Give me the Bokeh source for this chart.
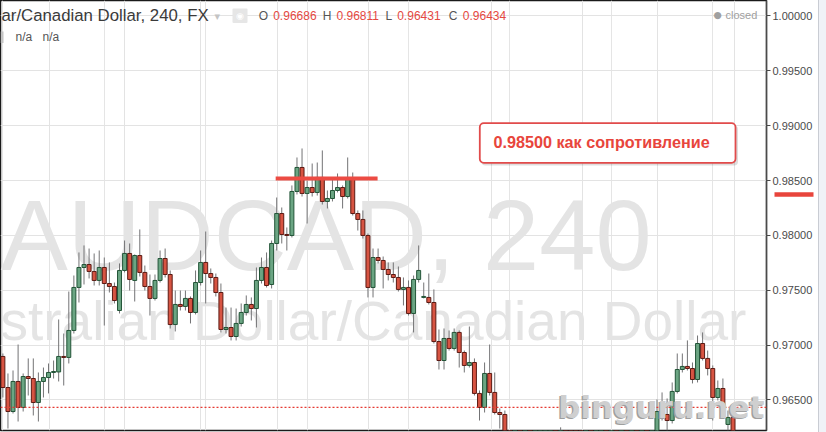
from bokeh.plotting import figure
from bokeh.layouts import row
from bokeh.models import (Range1d, FixedTicker, Grid, Span, Label, BoxAnnotation,
                          ColumnDataSource, Div)
from bokeh.embed import file_html
from bokeh.resources import INLINE

# ---------------- data (AUDCAD, 240 min candles) ----------------
opens = [
    0.96896, 0.96613, 0.96394, 0.96668, 0.96431, 0.96713, 0.96695, 0.96476, 0.96668, 0.96704,
    0.96750, 0.96755, 0.96896, 0.96887, 0.97133, 0.97525, 0.97707, 0.97734, 0.97671, 0.97589,
    0.97707, 0.97561, 0.97534, 0.97315, 0.97680, 0.97835, 0.97589, 0.97816, 0.97662, 0.97534,
    0.97425, 0.97589, 0.97789, 0.97643, 0.97187, 0.97370, 0.97352, 0.97425, 0.97297, 0.97570,
    0.97753, 0.97652, 0.97616, 0.97479, 0.97142, 0.97160, 0.97078, 0.97197, 0.97297, 0.97370,
    0.97333, 0.97589, 0.97707, 0.97552, 0.97926, 0.98199, 0.98008, 0.97999, 0.98400, 0.98619,
    0.98382, 0.98436, 0.98391, 0.98528, 0.98309, 0.98336, 0.98409, 0.98436, 0.98354, 0.98509,
    0.98199, 0.98145, 0.97999, 0.97525, 0.97798, 0.97771, 0.97689, 0.97643, 0.97616, 0.97507,
    0.97525, 0.97288, 0.97598, 0.97434, 0.97434, 0.97388, 0.97032, 0.96859, 0.97060, 0.96969,
    0.97115, 0.96932, 0.96814, 0.96841, 0.96559, 0.96431, 0.96741, 0.96568, 0.96385, 0.96367,
    0.96130, 0.95990, 0.96050, 0.95850, 0.95920, 0.95760, 0.95850, 0.95960, 0.96010, 0.96080,
    0.96030, 0.96120, 0.95980, 0.95850, 0.95790, 0.95650, 0.95720, 0.95600, 0.95660, 0.95770,
    0.95730, 0.95820, 0.95800, 0.95910, 0.95870, 0.95960, 0.95930, 0.96020, 0.96000,
    0.96100, 0.96394, 0.96367, 0.96312, 0.96577, 0.96777, 0.96805, 0.96786, 0.96686, 0.97014,
    0.96878, 0.96786, 0.96522, 0.96604, 0.96276, 0.96340,
]
highs = [
    0.96923, 0.96741, 0.96768, 0.97005, 0.96741, 0.96878, 0.96878, 0.96750, 0.96795, 0.96832,
    0.96859, 0.97233, 0.97105, 0.97488, 0.97634, 0.97844, 0.97908, 0.97880, 0.97835, 0.97862,
    0.97798, 0.97753, 0.97570, 0.97744, 0.97953, 0.97926, 0.97826, 0.98054, 0.97725, 0.97643,
    0.97643, 0.97862, 0.97880, 0.97680, 0.97497, 0.97497, 0.97497, 0.97443, 0.97680, 0.97862,
    0.98035, 0.97698, 0.97652, 0.97561, 0.97342, 0.97342, 0.97333, 0.97379, 0.97452, 0.97434,
    0.97707, 0.97798, 0.97844, 0.97953, 0.98345, 0.98254, 0.98072, 0.98455, 0.98710, 0.98792,
    0.98500, 0.98655, 0.98664, 0.98774, 0.98409, 0.98528, 0.98564, 0.98455, 0.98710, 0.98573,
    0.98227, 0.98227, 0.98017, 0.97880, 0.97880, 0.97807, 0.97753, 0.97753, 0.97716, 0.97616,
    0.97589, 0.97634, 0.97908, 0.97570, 0.97652, 0.97507, 0.97142, 0.97151, 0.97133, 0.97151,
    0.97133, 0.96950, 0.97169, 0.96878, 0.96586, 0.96841, 0.97005, 0.96750, 0.96422, 0.96403,
    0.96160, 0.96090, 0.96080, 0.95960, 0.95940, 0.95890, 0.96010, 0.96070, 0.96150, 0.96120,
    0.96250, 0.96150, 0.96000, 0.95880, 0.95820, 0.95760, 0.95740, 0.95700, 0.95800, 0.95810,
    0.95860, 0.95850, 0.95950, 0.95940, 0.96000, 0.96010, 0.96060, 0.96080, 0.96170,
    0.96504, 0.96568, 0.96513, 0.96659, 0.96923, 0.96923, 0.97042, 0.96841, 0.97087, 0.97115,
    0.96950, 0.96814, 0.96677, 0.96695, 0.96403, 0.96385,
]
lows = [
    0.96522, 0.96239, 0.96376, 0.96303, 0.96394, 0.96540, 0.96358, 0.96303, 0.96522, 0.96559,
    0.96695, 0.96668, 0.96631, 0.96832, 0.97105, 0.97388, 0.97552, 0.97607, 0.97543, 0.97543,
    0.97178, 0.97479, 0.97379, 0.97288, 0.97662, 0.97497, 0.97397, 0.97625, 0.97497, 0.97269,
    0.97406, 0.97570, 0.97616, 0.97151, 0.97124, 0.97315, 0.97315, 0.97197, 0.97279, 0.97543,
    0.97379, 0.97561, 0.97443, 0.97115, 0.97105, 0.97042, 0.97042, 0.97169, 0.97269, 0.97224,
    0.97160, 0.97561, 0.97525, 0.97516, 0.97862, 0.97926, 0.97862, 0.97981, 0.98373, 0.98354,
    0.98108, 0.98354, 0.98363, 0.98281, 0.98245, 0.98309, 0.98391, 0.98245, 0.98336, 0.98181,
    0.98044, 0.97971, 0.97434, 0.97434, 0.97744, 0.97516, 0.97589, 0.97570, 0.97488, 0.97361,
    0.97269, 0.97115, 0.97570, 0.97425, 0.97370, 0.97014, 0.96777, 0.96777, 0.96950, 0.96950,
    0.96795, 0.96750, 0.96795, 0.96540, 0.96312, 0.96385, 0.96540, 0.96367, 0.96239, 0.96084,
    0.95950, 0.95960, 0.95810, 0.95820, 0.95720, 0.95740, 0.95830, 0.95930, 0.95980, 0.95990,
    0.96010, 0.95950, 0.95820, 0.95740, 0.95610, 0.95630, 0.95570, 0.95580, 0.95640, 0.95700,
    0.95710, 0.95770, 0.95790, 0.95840, 0.95850, 0.95900, 0.95910, 0.95970, 0.95980,
    0.96070, 0.96312, 0.96221, 0.96285, 0.96559, 0.96750, 0.96768, 0.96650, 0.96659, 0.96859,
    0.96723, 0.96312, 0.96495, 0.96385, 0.96221, 0.96084,
]
closes = [
    0.96613, 0.96394, 0.96668, 0.96431, 0.96713, 0.96695, 0.96476, 0.96668, 0.96704, 0.96750,
    0.96759, 0.96896, 0.96887, 0.97133, 0.97525, 0.97707, 0.97734, 0.97671, 0.97589, 0.97707,
    0.97561, 0.97534, 0.97406, 0.97680, 0.97835, 0.97598, 0.97816, 0.97662, 0.97534, 0.97425,
    0.97589, 0.97789, 0.97643, 0.97187, 0.97370, 0.97352, 0.97425, 0.97297, 0.97570, 0.97753,
    0.97652, 0.97616, 0.97479, 0.97142, 0.97160, 0.97078, 0.97197, 0.97297, 0.97370, 0.97333,
    0.97589, 0.97707, 0.97543, 0.97926, 0.98199, 0.98008, 0.97999, 0.98400, 0.98619, 0.98382,
    0.98436, 0.98391, 0.98528, 0.98309, 0.98336, 0.98409, 0.98436, 0.98354, 0.98509, 0.98199,
    0.98145, 0.97999, 0.97525, 0.97798, 0.97771, 0.97689, 0.97643, 0.97616, 0.97507, 0.97525,
    0.97288, 0.97598, 0.97680, 0.97443, 0.97388, 0.97032, 0.96859, 0.97060, 0.96969, 0.97115,
    0.96932, 0.96814, 0.96841, 0.96559, 0.96431, 0.96741, 0.96568, 0.96385, 0.96367, 0.96130,
    0.95990, 0.96050, 0.95850, 0.95920, 0.95760, 0.95850, 0.95960, 0.96010, 0.96080, 0.96030,
    0.96120, 0.95980, 0.95850, 0.95790, 0.95650, 0.95720, 0.95600, 0.95660, 0.95770, 0.95730,
    0.95820, 0.95800, 0.95910, 0.95870, 0.95960, 0.95930, 0.96020, 0.96000, 0.96100,
    0.96394, 0.96376, 0.96312, 0.96577, 0.96777, 0.96805, 0.96786, 0.96686, 0.97014, 0.96878,
    0.96786, 0.96522, 0.96604, 0.96431, 0.96340, 0.96130,
]
bar_index = list(range(len(opens)))

price_ticks = [0.965, 0.970, 0.975, 0.980, 0.985, 0.990, 0.995, 1.000]
price_tick_labels = ["0.96500", "0.97000", "0.97500", "0.98000",
                     "0.98500", "0.99000", "0.99500", "1.00000"]
time_grid_bars = [9.2, 24.0, 39.0, 54.1, 72.2, 96.3, 114.3, 129.1, 144.2]

resistance_level = 0.98518
resistance_bars = [53.8, 73.9]
scale_marker_level = 0.98368
last_price = 0.96431
header_ohlc = [("O", "0.96686"), ("H", "0.96811"), ("L", "0.96431"), ("C", "0.96434")]

X_START, X_END = -0.47, 150.6
Y_BOTTOM, Y_TOP = 0.96221, 1.00141

# ---------------- layout ----------------
W, H = 826, 432
STRIP_W = 8
PLOT_W = W - STRIP_W
BORDER_BOTTOM = 2
FRAME_H = H - BORDER_BOTTOM
FRAME_W = 766
BORDER_RIGHT = PLOT_W - FRAME_W


def ry(Y):
    """top-down pixel -> frame screen y (bottom-up)"""
    return FRAME_H - Y


p = figure(width=PLOT_W, height=H, x_range=Range1d(X_START, X_END),
           y_range=Range1d(Y_BOTTOM, Y_TOP), output_backend="svg", toolbar_location=None,
           x_axis_location=None, y_axis_location="right", min_border_left=0,
           min_border_top=0, min_border_bottom=BORDER_BOTTOM, min_border_right=BORDER_RIGHT)
p.background_fill_color = "white"
p.border_fill_color = "white"
p.outline_line_color = "#1a1a1a"
p.outline_line_width = 1.5

GRID = "#e3e3e3"
MARK_IN, MARK_OUT = -8, 47
ax = p.yaxis[0]
ax.ticker = FixedTicker(ticks=price_ticks, minor_ticks=[scale_marker_level])
ax.major_label_overrides = {t: s for t, s in zip(price_ticks, price_tick_labels)}
ax.axis_line_color = "#4a4a4a"
ax.axis_line_width = 1.2
ax.major_tick_line_color = "#4a4a4a"
ax.major_tick_out = 4
ax.major_tick_in = 0
# red marker drawn on the price scale (as the single minor tick)
ax.minor_tick_line_color = "#e8453c"
ax.minor_tick_line_width = 4.5
ax.minor_tick_in = MARK_IN
ax.minor_tick_out = MARK_OUT
# labels sit 6 px from the axis line; the standoff is measured from the longest tick
ax.major_label_standoff = 6 - MARK_OUT
ax.major_label_text_font = "Liberation Sans"
ax.major_label_text_font_size = "11px"
ax.major_label_text_color = "#4a4a4a"

p.ygrid[0].ticker = FixedTicker(ticks=price_ticks)
p.ygrid[0].grid_line_color = GRID
p.add_layout(Grid(dimension=0, ticker=FixedTicker(ticks=time_grid_bars), grid_line_color=GRID))


def label(x, ymid, text, size, color, font="Liberation Sans", style="normal", align="left",
          level="annotation"):
    p.add_layout(Label(x=x, y=ry(ymid), x_units="screen", y_units="screen", text=text,
                       text_font=font, text_font_style=style, text_font_size=size,
                       text_color=color, text_align=align, text_baseline="middle",
                       level=level))


def box(l, r, t, b, color, alpha=1.0, radius=0, line_color=None, line_width=1):
    p.add_layout(BoxAnnotation(left=l, right=r, top=ry(t), bottom=ry(b), left_units="screen",
                               right_units="screen", top_units="screen", bottom_units="screen",
                               fill_color=color, fill_alpha=alpha, border_radius=radius,
                               line_color=line_color, line_alpha=1 if line_color else 0,
                               line_width=line_width))


# ---------------- watermarks (behind candles) ----------------
WM = "#e4e4e4"
label(0, 234, "AUDCAD, 240", "101px", WM, level="underlay")
label(0, 320, "stralian Dollar/Canadian Dollar", "55px", WM, level="underlay")

# ---------------- candles ----------------
up = [i for i in bar_index if closes[i] >= opens[i]]
dn = [i for i in bar_index if closes[i] < opens[i]]
wicks = ColumnDataSource(dict(x=bar_index, lo=lows, hi=highs))
src_up = ColumnDataSource(dict(x=up, top=[closes[i] for i in up], bottom=[opens[i] for i in up]))
src_dn = ColumnDataSource(dict(x=dn, top=[opens[i] for i in dn], bottom=[closes[i] for i in dn]))

p.segment(x0="x", y0="lo", x1="x", y1="hi", source=wicks, line_color="#737375", line_width=1)
p.vbar(x="x", width=0.78, top="top", bottom="bottom", source=src_up,
       fill_color="#6ba583", line_color="#225437", line_width=1)
p.vbar(x="x", width=0.78, top="top", bottom="bottom", source=src_dn,
       fill_color="#d75442", line_color="#5b1a13", line_width=1)

# resistance drawing
p.segment(x0=[resistance_bars[0]], y0=[resistance_level], x1=[resistance_bars[1]],
          y1=[resistance_level], line_color="#ec4b43", line_width=4, line_cap="butt")

# last price dotted line
p.add_layout(Span(location=last_price, dimension="width", line_color="#e53a33",
                  line_dash="2 2", line_width=1.2))

# ---------------- callout ----------------
box(481, 737.5, 125, 165, "black", alpha=0.13, radius=4)
box(479.3, 735, 122.7, 162.3, "white", radius=4, line_color="#e14b4b", line_width=1.8)
label(493, 141, "0.98500 как сопротивление", "16.2px", "#e8453c", style="bold")

# ---------------- header ----------------
label(1, 14.5, "ar/Canadian Dollar, 240, FX", "16.8px", "#3a3a3a")
label(214, 15.5, "▾", "11px", "#c4c4c4", font="DejaVu Sans")
box(232, 247, 8, 22.5, "#e6e6e6", radius=1)
label(239.5, 15.2, "◉", "9px", "white", font="DejaVu Sans", align="center")

ohlc_x = [(258.3, 272.7), (322.3, 336.0), (385.0, 396.7), (448.3, 462.3)]
for (letter, val), (xl, xv) in zip(header_ohlc, ohlc_x):
    label(xl, 15.2, letter, "12px", "#555555")
    label(xv, 15.2, val, "12px", "#e5483f")

box(0, 3, 31, 42.5, "#c4c4c4")
label(15, 36.5, "n/a", "12px", "#555555")
label(42, 36.5, "n/a", "12px", "#555555")

label(713, 14.3, "●", "9.5px", "#a0a0a0", font="DejaVu Sans")
label(725, 14.5, "closed", "11px", "#a0a0a0")

# ---------------- site watermark (kept inside the chart pane) ----------------
label(762.5, 407.5, "binguru.net", "31px", "#9f9f9f", font="DejaVu Sans", style="bold",
      align="right", level="overlay")
label(764, 406, "binguru.net", "31px", "#cfcfcf", font="DejaVu Sans", style="bold",
      align="right", level="overlay")

# right-hand grey strip of the window
strip = Div(width=STRIP_W, height=H, margin=0,
            styles={"background-color": "#f0f2f7", "border-left": "1px solid #c9ccd3",
                    "box-sizing": "border-box"})

layout = row(p, strip, spacing=0)
open("out.html", "w").write(file_html(layout, INLINE))
